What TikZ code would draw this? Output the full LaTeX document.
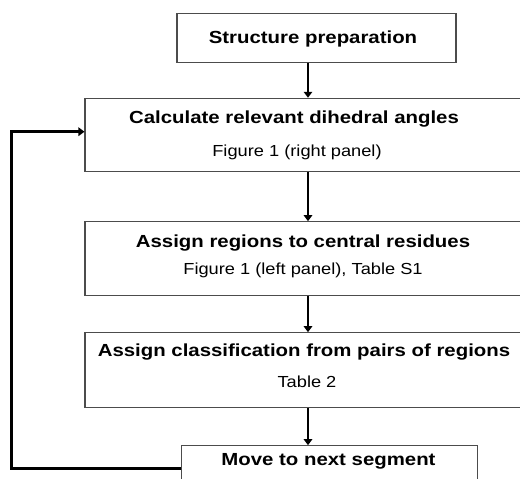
\documentclass[tikz,border=0pt]{standalone}
\usepackage{fontspec}
\setmainfont{Liberation Sans}
\usetikzlibrary{arrows.meta}
\begin{document}
\begin{tikzpicture}[x=1pt,y=-1pt,
  box/.style={draw=black!70, line width=1.1pt, fill=white, inner sep=0pt},
  btxt/.style={anchor=base, inner sep=0pt, font=\fontsize{17.5}{17.5}\selectfont\bfseries},
  rtxt/.style={anchor=base, inner sep=0pt, font=\fontsize{16}{16}\selectfont},
  flow/.style={line width=2.2pt, -{Triangle[length=6pt,width=8.5pt]}},
  loopline/.style={line width=2.6pt, -{Triangle[length=6pt,width=8.5pt]}}
]
\useasboundingbox (0,0) rectangle (520,479);
\begin{scope}
\clip (0,0) rectangle (520,479);
\node[box, minimum width=279pt, minimum height=49pt] (b1) at (316.5,37.7) {};
\node[box, minimum width=446pt, minimum height=73.4pt] (b2) at (308,135) {};
\node[box, minimum width=446pt, minimum height=74pt] (b3) at (308,258.7) {};
\node[box, minimum width=446pt, minimum height=74.6pt] (b4) at (308,370) {};
\node[box, minimum width=296pt, minimum height=74pt] (b5) at (329.7,482.7) {};
\end{scope}

\node[btxt] (t1) at (313,43) {\scalebox{1.165}[1]{Structure preparation}};
\node[btxt] (t2a) at (294,123) {\scalebox{1.165}[1]{Calculate relevant dihedral angles}};
\node[rtxt] (t2b) at (297,156) {\scalebox{1.14}[1]{Figure 1 (right panel)}};
\node[btxt] (t3a) at (303,247) {\scalebox{1.165}[1]{Assign regions to central residues}};
\node[rtxt] (t3b) at (303,274) {\scalebox{1.14}[1]{Figure 1 (left panel), Table S1}};
\node[btxt] (t4a) at (304,356) {\scalebox{1.165}[1]{Assign classification from pairs of regions}};
\node[rtxt] (t4b) at (307,387) {\scalebox{1.14}[1]{Table 2}};
\node[btxt] (t5) at (328.5,465) {\scalebox{1.165}[1]{Move to next segment}};

\draw[flow] (b2.north |- b1.south) -- (b2.north);
\draw[flow] (b2.south) -- (b3.north);
\draw[flow] (b3.south) -- (b4.north);
\draw[flow] (b4.south) -- (b4.south |- b5.north);
\coordinate (lp) at (11.7,468.3);
\draw[loopline] (b5.west |- lp) -- (lp) |- ([yshift=3.3pt]b2.west);
\end{tikzpicture}
\end{document}
